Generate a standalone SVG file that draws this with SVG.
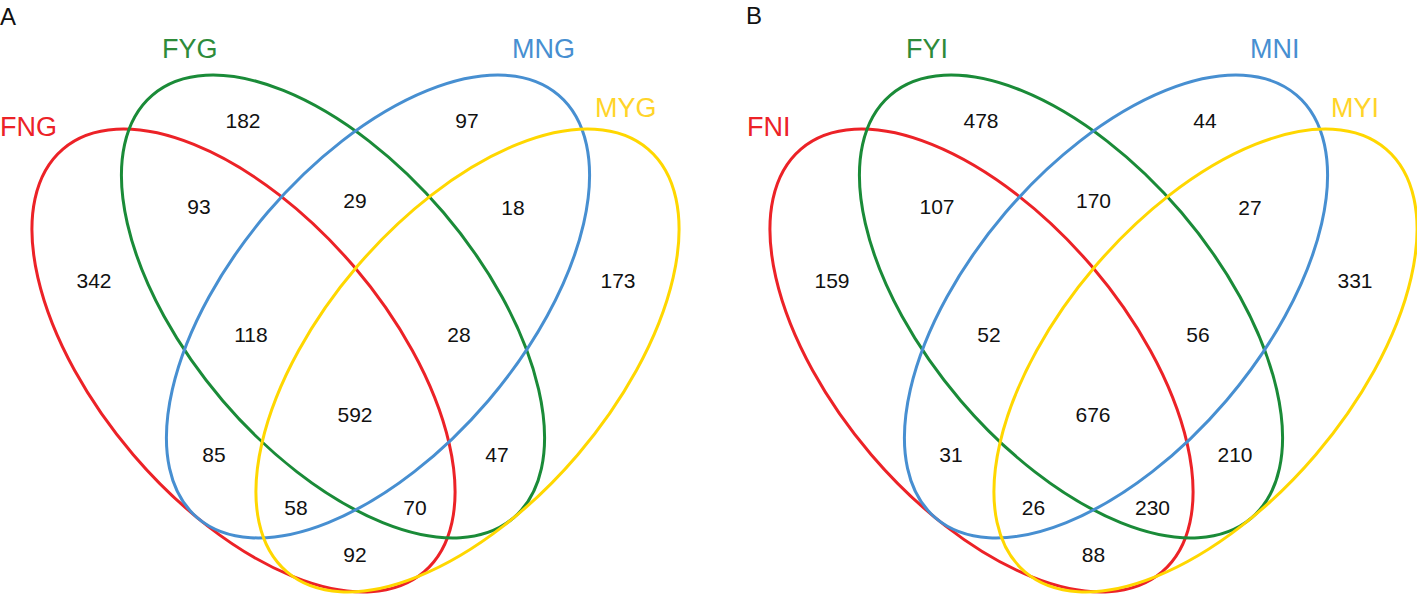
<svg xmlns="http://www.w3.org/2000/svg" width="1417" height="594" viewBox="0 0 1417 594">
<style>
.e{fill:none;stroke-width:3}
.r{stroke:#EC2227}
.g{stroke:#1A8B38}
.b{stroke:#478FD1}
.y{stroke:#FFD700}
.n{font-family:"Liberation Sans",Arial,sans-serif;font-size:21px;fill:#111;text-anchor:middle}
.lab{font-family:"Liberation Sans",Arial,sans-serif;font-size:27px}
.pl{font-family:"Liberation Sans",Arial,sans-serif;font-size:24px;fill:#111}
.tr{fill:#EC2227}.tg{fill:#2E8B3A}.tb{fill:#478FD1}.ty{fill:#FFD42A}
</style>
<rect width="1417" height="594" fill="#fff"/>
<defs>
<g id="venn">
<ellipse class="e r" cx="243.5" cy="360.5" rx="278" ry="145" transform="rotate(49.5 243.5 360.5)"/>
<ellipse class="e g" cx="333" cy="306.5" rx="278" ry="145" transform="rotate(49.5 333 306.5)"/>
<ellipse class="e b" cx="378" cy="306.5" rx="278" ry="145" transform="rotate(-49.5 378 306.5)"/>
<ellipse class="e y" cx="467.5" cy="360.5" rx="278" ry="145" transform="rotate(-49.5 467.5 360.5)"/>
</g>
</defs>
<g id="connectors">
<use href="#venn"/>
<use href="#venn" transform="translate(738 0)"/>
</g>
<g id="panelA">
<text class="pl" x="0" y="25">A</text>
<text class="lab tr" x="0" y="136">FNG</text>
<text class="lab tg" x="162" y="58">FYG</text>
<text class="lab tb" x="512" y="58">MNG</text>
<text class="lab ty" x="595" y="117">MYG</text>
<text class="n" x="243" y="128">182</text>
<text class="n" x="199" y="214">93</text>
<text class="n" x="94" y="288">342</text>
<text class="n" x="355" y="208">29</text>
<text class="n" x="467" y="128">97</text>
<text class="n" x="513" y="215">18</text>
<text class="n" x="618" y="288">173</text>
<text class="n" x="251" y="342">118</text>
<text class="n" x="459" y="342">28</text>
<text class="n" x="355" y="422">592</text>
<text class="n" x="214" y="462">85</text>
<text class="n" x="497" y="462">47</text>
<text class="n" x="296" y="515">58</text>
<text class="n" x="415" y="515">70</text>
<text class="n" x="355" y="562">92</text>
</g>
<g id="panelB">
<text class="pl" x="746" y="24">B</text>
<text class="lab tr" x="747" y="136">FNI</text>
<text class="lab tg" x="906" y="58">FYI</text>
<text class="lab tb" x="1250" y="58">MNI</text>
<text class="lab ty" x="1331" y="117">MYI</text>
<text class="n" x="981" y="128">478</text>
<text class="n" x="937" y="214">107</text>
<text class="n" x="832" y="288">159</text>
<text class="n" x="1093.5" y="208">170</text>
<text class="n" x="1205" y="128">44</text>
<text class="n" x="1250" y="215">27</text>
<text class="n" x="1355" y="288">331</text>
<text class="n" x="989" y="342">52</text>
<text class="n" x="1198" y="342">56</text>
<text class="n" x="1093" y="422">676</text>
<text class="n" x="951" y="462">31</text>
<text class="n" x="1235" y="462">210</text>
<text class="n" x="1033.5" y="515">26</text>
<text class="n" x="1152.5" y="515">230</text>
<text class="n" x="1093.5" y="562">88</text>
</g>
</svg>
